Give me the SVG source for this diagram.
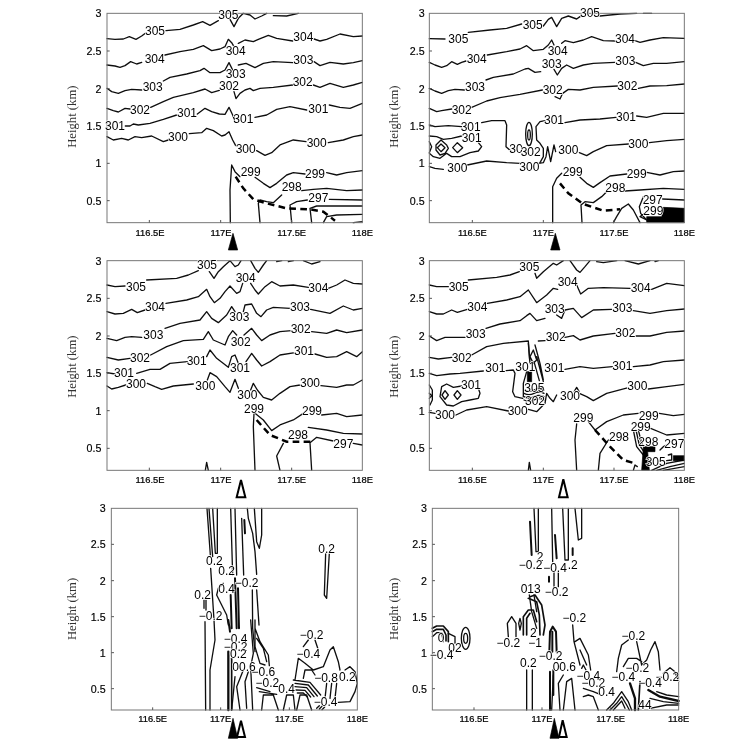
<svg xmlns="http://www.w3.org/2000/svg" width="750" height="743" viewBox="0 0 750 743">
<defs><filter id="soft" x="0" y="0" width="100%" height="100%" filterUnits="objectBoundingBox"><feGaussianBlur stdDeviation="0.4"/></filter></defs>
<style>
.c{fill:none;stroke:#111;stroke-width:4;stroke-linejoin:round;stroke-linecap:round}
.h{fill:none;stroke:#111;stroke-width:7;stroke-linejoin:round}
.d{fill:none;stroke:#000;stroke-width:7.5;stroke-dasharray:20 13}
.f{fill:none;stroke:#777;stroke-width:3}
.t{fill:none;stroke:#555;stroke-width:3}
text{font-family:"Liberation Sans",Arial,sans-serif;fill:#000;text-anchor:middle;dominant-baseline:central}
.l{font-size:36px;paint-order:stroke;stroke:#fff;stroke-width:4px}
.x{font-size:28px;stroke:#000;stroke-width:.7px}
.y{font-size:32px;text-anchor:end;stroke:#000;stroke-width:.5px}
.a{font-family:"Liberation Serif",serif;font-size:38px;fill:#333}
.b{fill:#000;stroke:#000;stroke-width:2}
.o{fill:#fff;stroke:#000;stroke-width:6}
</style>
<rect width="750" height="743" fill="#fff"/>
<g filter="url(#soft)">
<rect width="750" height="743" fill="#fff"/>

<g id="panel-1" transform="translate(60,0) scale(.33333)">
<g id="contours-1">
<path class="c" d="M141,116 165,118 190,117 208,110 228,118 245,108 258,98M318,92 360,88 400,75 428,65 450,76 475,62M510,58 522,80 535,55 550,40 570,45 585,57 605,48 620,40M640,47 680,48 715,40"/>
<path class="c" d="M141,195 165,198 180,202 195,197 212,185 230,192 245,187M315,165 360,155 400,148 430,137 455,152 480,147 495,140 505,118 515,128 522,140M535,130 555,120 580,125 595,118 625,106 650,115 698,123M762,117 780,123 800,118 840,102 880,110 907,108"/>
<path class="c" d="M141,265 155,275 175,280 195,272 215,268 245,270M310,243 330,232 380,222 420,212 432,205 450,218 480,218 495,210 507,188 518,210M535,195 558,190 585,203 610,190 640,185 698,188M762,185 780,197 810,187 850,192 880,188 907,182"/>
<path class="c" d="M141,325 160,332 175,336 195,325 210,327M272,322 310,305 340,292 400,278 435,267 455,278 478,271M522,275 528,296 540,280 555,270 570,265 580,272 600,265 640,262 698,255M760,255 780,262 810,250 850,262 880,255 907,247"/>
<path class="c" d="M196,378 210,378 220,372 235,375 270,370 310,358 350,345M412,342 435,325 455,335 478,342 495,343 507,322 518,345 523,358M585,352 620,345 650,328 690,320 740,330M808,315 840,322 870,325 907,310"/>
<path class="c" d="M141,410 160,420 185,415 205,420 225,410 245,413 275,408 310,425 325,420M388,401 425,398 440,385 460,392 485,408 495,405 507,395 518,420 527,437M590,452 615,466 635,458 660,435 700,420 738,425M805,428 850,420 880,410 907,405"/>
<path class="c" d="M511,668 510,570 515,495 525,515 540,530M585,532 610,550 630,563 650,550 680,525 700,518 735,522M800,518 830,525 860,518 907,512M600,668 595,610 600,600 620,605 640,608 665,585M725,572 760,568 800,565 860,572 907,570M695,668 690,615 710,605 742,600M808,598 907,600M755,668 750,625 770,618 907,618M790,668 800,650 830,645 907,643M880,668 907,665"/>
<path class="d" d="M527,530 550,565 580,598 620,610 680,625 750,628 790,635 825,662"/>
</g>
<rect class="f" x="141" y="40" width="766" height="628"/>
<path class="t" d="M141,153h8M141,266h8M141,378h8M141,490h8M141,602h8M268,668v-8M482,668v-8M695,668v-8"/>
<text class="y" x="124" y="40">3</text><text class="y" x="124" y="153">2.5</text><text class="y" x="124" y="266">2</text><text class="y" x="124" y="378">1.5</text><text class="y" x="124" y="490">1</text><text class="y" x="124" y="602">0.5</text>
<text class="x" x="270" y="698">116.5E</text><text class="x" x="483" y="698">117E</text><text class="x" x="695" y="698">117.5E</text><text class="x" x="907" y="698">118E</text>
<text class="a" transform="translate(35,350) rotate(-90)">Height (km)</text>
<g class="labels">
<text class="l" x="505" y="44">305</text><text class="l" x="285" y="93">305</text><text class="l" x="284" y="177">304</text><text class="l" x="527" y="152">304</text><text class="l" x="730" y="112">304</text><text class="l" x="278" y="261">303</text><text class="l" x="527" y="222">303</text><text class="l" x="730" y="180">303</text><text class="l" x="240" y="330">302</text><text class="l" x="507" y="257">302</text><text class="l" x="728" y="247">302</text><text class="l" x="165" y="378">301</text><text class="l" x="381" y="338">301</text><text class="l" x="550" y="358">301</text><text class="l" x="775" y="328">301</text><text class="l" x="354" y="412">300</text><text class="l" x="557" y="447">300</text><text class="l" x="770" y="428">300</text><text class="l" x="572" y="515">299</text><text class="l" x="765" y="522">299</text><text class="l" x="695" y="562">298</text><text class="l" x="775" y="594">297</text>
</g>
<path class="b" d="M519,700 533,750 505,750Z"/>
</g>

<g id="panel-2" transform="translate(380,0) scale(.33333)">
<g id="contours-2">
<path class="c" d="M148,116 195,117M265,97 330,90 380,85 425,72M490,78 505,58 515,52 530,80 545,55 565,48 590,57 600,50M660,48 720,42 770,40M790,40 815,40"/>
<path class="c" d="M148,187 165,195 185,202 200,197 215,185 232,193 245,187 258,183M322,165 380,155 420,147 440,137 460,152 490,148 505,135 515,120 522,135M545,130 555,122 580,128 610,120 635,110 670,122 706,123M765,122 780,127 810,120 850,113 913,115"/>
<path class="c" d="M148,265 165,273 185,280 205,272 225,268 253,270M318,240 340,232 400,222 435,207 445,205 465,217 482,215M522,208 532,225 545,205 560,195 580,205 610,195 640,190 705,187M767,187 790,197 820,190 860,190 913,185"/>
<path class="c" d="M148,325 170,335 185,332 215,327M275,322 320,303 360,293 420,283 487,270M525,290 540,297 548,280 565,268 600,270 640,262 712,258M775,265 810,258 860,257 913,252"/>
<path class="c" d="M148,375 165,380 205,377 245,380M305,368 335,362 375,362 380,375 378,440 395,455M470,420 468,380 480,365 495,362M555,368 600,360 660,357 708,352M770,348 800,352 850,340 913,340M470,420 480,430 490,445 490,470 480,488"/>
<path class="c" d="M148,408 170,410 190,418 215,415 245,408M295,428 305,440 295,453 270,458 240,470 215,470 200,460 180,475 160,470 148,460M148,425 155,440 148,458M183,420 200,435 205,445 195,460 180,465 168,450 168,435ZM183,432 195,443 183,455 172,443ZM232,428 248,443 232,458 218,443Z"/>
<ellipse class="c" cx="447" cy="402" rx="10" ry="35"/><ellipse class="c" cx="447" cy="405" rx="4" ry="15" stroke-width="5"/>
<path class="c" d="M148,500 165,505 190,508M262,495 320,483 380,488 420,490M476,490 490,488 498,470 503,440 512,485 522,435 527,455M598,458 620,467 640,455 680,437 745,432M808,428 860,422 913,418"/>
<path class="c" d="M518,668 518,560 530,535 545,520M600,532 620,550 640,562 660,548 690,528 740,522M800,517 840,525 880,515 913,513M606,668 603,615 615,605 640,608 665,590 680,575M735,573 780,570 850,565 913,568M700,668 710,650 725,625 745,612 760,630 780,668M790,590 778,620 782,640 800,660 780,650 795,640M848,597 913,600"/>
<path class="d" d="M540,550 565,580 610,612 670,632 720,628"/>
<path class="b" d="M800,650 845,650 850,622 913,625 913,668 800,668Z"/>
</g>
<rect class="f" x="148" y="40" width="765" height="628"/>
<path class="t" d="M148,153h8M148,266h8M148,378h8M148,490h8M148,602h8M277,668v-8M490,668v-8M702,668v-8"/>
<text class="y" x="134" y="40">3</text><text class="y" x="134" y="153">2.5</text><text class="y" x="134" y="266">2</text><text class="y" x="134" y="378">1.5</text><text class="y" x="134" y="490">1</text><text class="y" x="134" y="602">0.5</text>
<text class="x" x="277" y="698">116.5E</text><text class="x" x="490" y="698">117E</text><text class="x" x="702" y="698">117.5E</text><text class="x" x="913" y="698">118E</text>
<text class="a" transform="translate(42,350) rotate(-90)">Height (km)</text>
<g class="labels">
<text class="l" x="630" y="38">305</text><text class="l" x="458" y="76">305</text><text class="l" x="235" y="117">305</text><text class="l" x="290" y="177">304</text><text class="l" x="533" y="152">304</text><text class="l" x="735" y="116">304</text><text class="l" x="285" y="260">303</text><text class="l" x="515" y="193">303</text><text class="l" x="736" y="183">303</text><text class="l" x="245" y="330">302</text><text class="l" x="518" y="270">302</text><text class="l" x="742" y="257">302</text><text class="l" x="272" y="380">301</text><text class="l" x="275" y="413">301</text><text class="l" x="522" y="360">301</text><text class="l" x="738" y="352">301</text><text class="l" x="408" y="448">30</text><text class="l" x="452" y="455">302</text><text class="l" x="565" y="450">300</text><text class="l" x="775" y="432">300</text><text class="l" x="232" y="505">300</text><text class="l" x="448" y="502">300</text><text class="l" x="578" y="517">299</text><text class="l" x="770" y="522">299</text><text class="l" x="706" y="565">298</text><text class="l" x="818" y="600">297</text><text class="l" x="820" y="632">299</text>
</g>
<path class="b" d="M526,700 540,750 512,750Z"/>
</g>

<g id="panel-3" transform="translate(60,250) scale(.33333)">
<g id="contours-3">
<path class="c" d="M141,105 165,110 195,108M260,90 350,85 385,75 415,62M448,65 462,85 475,65 490,50 510,32 525,50 535,45 543,32M572,32 585,55 595,67 610,45 620,32M650,35 665,32M685,35 700,32M730,32 755,42 780,35"/>
<path class="c" d="M141,185 165,192 190,190 215,178 232,188 255,180M318,160 380,150 415,140 440,118 450,140 463,158 480,145 495,125 510,108 530,130 540,125 548,100M572,100 585,120 595,132 615,110 635,95 660,108 700,105 745,112M805,115 830,105 855,90 880,100 907,102"/>
<path class="c" d="M141,265 170,272 195,262 215,260 245,262M315,235 360,220 420,210 440,185 455,205 475,218 500,195 515,170 525,185M550,185 555,165 575,162 590,190 603,200 620,180 640,172 690,175M752,178 810,190 850,168 880,180 907,175"/>
<path class="c" d="M141,322 175,330 210,325M272,315 320,290 370,272 430,268 445,245 460,270 495,285 505,260 518,242 530,255M552,255 575,235 590,255 605,272 630,255 660,245 695,242M755,245 800,250 830,240 860,248 907,240"/>
<path class="c" d="M141,368 165,372M230,370 270,358 300,358 330,340 382,335M440,320 450,300 470,325 505,352 515,320 525,315 535,340M558,335 575,310 590,330 605,348 630,335 660,315 705,308M765,312 800,322 830,320 860,305 890,320 907,305"/>
<path class="c" d="M141,408 155,417 175,412 197,405M262,400 285,410 305,418 340,408 400,402M442,390 450,368 470,380 495,410 510,427 525,388 535,415M572,420 580,400 592,420 610,442 635,450 660,430 690,410 720,405M783,407 830,412 860,405 880,405 907,390"/>
<path class="c" d="M585,661 580,530 582,490M585,490 610,510 635,542 660,525 700,510 730,490M785,495 830,490 860,500 907,495M660,661 650,618 670,580M745,532 800,540 850,550 907,552M755,661 750,578 770,562 820,573M880,580 907,585M436,661 440,637 445,661"/>
<path class="d" d="M590,510 630,555 680,575 755,575"/>
</g>
<rect class="f" x="141" y="32" width="766" height="629"/>
<path class="t" d="M141,145h8M141,258h8M141,370h8M141,482h8M141,595h8M268,661v-8M482,661v-8M695,661v-8"/>
<text class="y" x="124" y="32">3</text><text class="y" x="124" y="145">2.5</text><text class="y" x="124" y="258">2</text><text class="y" x="124" y="370">1.5</text><text class="y" x="124" y="482">1</text><text class="y" x="124" y="595">0.5</text>
<text class="x" x="270" y="690">116.5E</text><text class="x" x="483" y="690">117E</text><text class="x" x="695" y="690">117.5E</text><text class="x" x="907" y="690">118E</text>
<text class="a" transform="translate(35,350) rotate(-90)">Height (km)</text>
<g class="labels">
<text class="l" x="441" y="46">305</text><text class="l" x="228" y="110">305</text><text class="l" x="557" y="85">304</text><text class="l" x="285" y="170">304</text><text class="l" x="775" y="113">304</text><text class="l" x="280" y="255">303</text><text class="l" x="538" y="202">303</text><text class="l" x="720" y="172">303</text><text class="l" x="240" y="325">302</text><text class="l" x="542" y="275">302</text><text class="l" x="722" y="236">302</text><text class="l" x="192" y="368">301</text><text class="l" x="410" y="332">301</text><text class="l" x="540" y="355">301</text><text class="l" x="732" y="303">301</text><text class="l" x="228" y="402">300</text><text class="l" x="436" y="408">300</text><text class="l" x="562" y="434">300</text><text class="l" x="750" y="400">300</text><text class="l" x="582" y="476">299</text><text class="l" x="756" y="484">299</text><text class="l" x="714" y="555">298</text><text class="l" x="850" y="582">297</text>
</g>
<path class="o" d="M543,690 556,742 530,742Z"/>
</g>

<g id="panel-4" transform="translate(380,250) scale(.33333)">
<g id="contours-4">
<path class="c" d="M148,105 170,110 205,110M265,90 350,82 390,75 418,65M465,70 470,85 490,65 520,40 530,45 550,32M570,32 590,60 600,67 615,50 630,32M650,35 670,38 710,32M735,32 775,42 810,32M825,35 835,32"/>
<path class="c" d="M148,185 170,192 190,192 215,180 232,187 262,178M322,160 380,150 420,140 445,120 470,158 500,135 520,115 533,118M590,105 602,132 625,115 670,113 750,115M815,118 860,100 913,107"/>
<path class="c" d="M148,258 170,272 195,262 225,262 255,262M318,235 360,222 420,212 440,197 450,190 470,212 495,205M530,195 545,205 555,180 580,175 605,203 640,180 695,178M760,182 810,190 860,182 913,177"/>
<path class="c" d="M148,322 175,327 215,322M275,315 320,290 370,280 445,273 449,330M475,273 495,272M555,262 580,257 600,270 640,258 705,250M768,258 810,258 860,247 913,243"/>
<path class="c" d="M445,280 450,340M465,285 480,340 490,390M470,320 490,395M462,335 478,392M450,320 460,300 470,330 460,340Z"/>
<path class="c" d="M148,370 170,377 210,372 240,370 310,363M378,362 400,360 405,370 398,425 405,440 428,445M440,365 430,400 430,440M555,358 600,350 640,355 697,350M760,350 810,345 850,335 913,330"/>
<path class="c" d="M245,408 220,412 200,402 185,410 180,440 200,465 220,468 245,455 270,450 295,445 300,430 295,415M195,422 205,435 195,448 186,435ZM232,422 243,435 232,448 222,435ZM148,405 157,420 157,450 150,465M148,430 155,437 148,445"/>
<path class="c" d="M432,420q15,8 30,0t30,0M432,430q15,8 30,0t30,0M432,440q15,8 30,0t30,0M432,450q15,8 30,0t30,0"/>
<path class="c" d="M148,487 165,490M228,495 260,480 320,470 385,483M445,478 470,485 495,460 500,430 510,445 520,455 530,435M598,430 620,440 640,452 680,430 745,413M805,417 860,410 913,403M583,424 590,412 597,424"/>
<path class="c" d="M590,661 585,570 590,522M625,515 645,540 680,515 730,495 775,490M838,490 880,497 913,493M655,661 660,610 685,570M812,535 860,555 913,550M760,540 770,590 790,615M768,540 778,585 795,610M775,540 785,580 798,600M815,661 860,640 913,630M830,661 870,650 913,640M850,661 913,650M865,615 875,612 875,630 860,632M840,600 850,590 860,585M760,661 765,645 772,650"/>
<path class="d" d="M645,540 690,590 730,630 765,640"/>
<path class="b" d="M442,365H455V395H442ZM790,590H825V605H803L808,661H785ZM880,617H913V632H880Z"/>
<path class="c" d="M448,637 445,661M448,637 452,661"/>
</g>
<rect class="f" x="148" y="32" width="765" height="629"/>
<path class="t" d="M148,145h8M148,258h8M148,370h8M148,482h8M148,595h8M277,661v-8M490,661v-8M702,661v-8"/>
<text class="y" x="134" y="32">3</text><text class="y" x="134" y="145">2.5</text><text class="y" x="134" y="258">2</text><text class="y" x="134" y="370">1.5</text><text class="y" x="134" y="482">1</text><text class="y" x="134" y="595">0.5</text>
<text class="x" x="277" y="690">116.5E</text><text class="x" x="490" y="690">117E</text><text class="x" x="702" y="690">117.5E</text><text class="x" x="913" y="690">118E</text>
<text class="a" transform="translate(42,350) rotate(-90)">Height (km)</text>
<g class="labels">
<text class="l" x="448" y="50">305</text><text class="l" x="236" y="110">305</text><text class="l" x="563" y="97">304</text><text class="l" x="292" y="170">304</text><text class="l" x="782" y="115">304</text><text class="l" x="287" y="252">303</text><text class="l" x="524" y="177">303</text><text class="l" x="727" y="175">303</text><text class="l" x="245" y="323">302</text><text class="l" x="527" y="262">302</text><text class="l" x="736" y="250">302</text><text class="l" x="346" y="355">301</text><text class="l" x="436" y="352">301</text><text class="l" x="523" y="353">301</text><text class="l" x="727" y="347">301</text><text class="l" x="273" y="406">301</text><text class="l" x="463" y="413">305</text><text class="l" x="465" y="452">302</text><text class="l" x="195" y="495">300</text><text class="l" x="413" y="483">300</text><text class="l" x="570" y="437">300</text><text class="l" x="772" y="408">300</text><text class="l" x="610" y="503">299</text><text class="l" x="806" y="498">299</text><text class="l" x="782" y="532">299</text><text class="l" x="717" y="560">298</text><text class="l" x="805" y="575">298</text><text class="l" x="883" y="582">297</text><text class="l" x="827" y="635">305</text>
</g>
<path class="o" d="M550,688 563,742 537,742Z"/>
</g>

<g id="panel-5" transform="translate(60,495) scale(.33333)">
<g id="contours-5">
<path class="c" d="M441,40 451,180M447,40 458,185M458,40 466,175 472,175 472,40M452,220 462,375 465,435 450,525 450,645M435,380 437,645M432,315V340M438,315V345"/>
<path class="c" d="M512,40 518,240M525,40 530,240M545,70 551,240M562,40 565,70 578,115 585,170 590,238M583,40 590,140 598,160 605,120 605,40M577,285 578,400 585,470M590,285 597,390M490,265 475,280 470,300 485,330 500,360 505,390"/>
<path class="c" style="stroke-width:6" d="M553,75 555,115M525,250 530,400M512,300 515,400M505,375 510,410M534,280 537,400"/>
<path class="c" style="stroke-width:7" d="M505,470V645"/>
<path class="c" style="stroke-width:5" d="M515,490V645"/>
<path class="c" d="M525,545 515,645M550,525 530,575 540,645M565,530 555,560 560,640M572,375 580,475 572,515 578,645M585,375 585,455 600,505 615,510M585,400 600,440 625,480 628,512M590,430 610,460 620,500M590,578 630,590M598,590 650,598M610,600 605,645M610,600 640,600 655,645M670,645 680,600 700,600 705,645M710,645 720,600 740,600 755,645"/>
<path class="c" d="M700,555 750,562 782,600M705,565 745,570 772,603M705,575 740,578 762,605M708,585 735,586 752,606M712,594 730,594 742,606M705,555 715,490 735,505 760,525 790,515 810,465 820,455 835,500 840,525M730,455 745,435M765,435 775,465M730,550 735,525 755,525 765,540M835,622 870,620 885,590 892,565 885,530 870,515 855,525M800,565 795,610M815,565 810,610M830,565 825,610M770,640l8,-8M778,642l8,-8M786,644l8,-8"/>
<path class="c" d="M797,175 793,300 800,310 808,175"/>
</g>
<rect class="f" x="154" y="40" width="738" height="605"/>
<path class="t" d="M154,148h8M154,257h8M154,365h8M154,473h8M154,581h8M278,645v-8M482,645v-8M688,645v-8"/>
<text class="y" x="137" y="40">3</text><text class="y" x="137" y="148">2.5</text><text class="y" x="137" y="257">2</text><text class="y" x="137" y="365">1.5</text><text class="y" x="137" y="473">1</text><text class="y" x="137" y="581">0.5</text>
<text class="x" x="278" y="673">116.5E</text><text class="x" x="482" y="673">117E</text><text class="x" x="688" y="673">117.5E</text><text class="x" x="892" y="673">118E</text>
<text class="a" transform="translate(35,342) rotate(-90)">Height (km)</text>
<g class="labels">
<text class="l" x="800" y="161">0.2</text><text class="l" x="463" y="198">0.2</text><text class="l" x="500" y="228">0.2</text><text class="l" x="560" y="265">−0.2</text><text class="l" x="500" y="283">0.4</text><text class="l" x="428" y="300">0.2</text><text class="l" x="452" y="363">−0.2</text><text class="l" x="527" y="432">−0.4</text><text class="l" x="527" y="455">−0.2</text><text class="l" x="535" y="478">0.2</text><text class="l" x="552" y="515">00.6</text><text class="l" x="610" y="530">−0.6</text><text class="l" x="622" y="565">−0.2</text><text class="l" x="680" y="582">0.4</text><text class="l" x="755" y="420">−0.2</text><text class="l" x="745" y="478">−0.4</text><text class="l" x="798" y="550">−0.8</text><text class="l" x="862" y="545">0.2</text><text class="l" x="797" y="622">−0.4</text>
</g>
<path class="b" d="M519,670 533,730 505,730Z"/>
<path class="o" d="M543,677 555,726 531,726Z"/>
</g>

<g id="panel-6" transform="translate(380,495) scale(.33333)">
<g id="contours-6">
<path class="c" d="M462,40 468,170 475,170 475,40M515,40 518,200M548,40 555,195 565,195 565,40M585,40 595,135 605,130 605,40M522,230V275M535,230V275M440,525V645M457,525V645"/>
<path class="c" style="stroke-width:6" d="M450,80 455,180M525,120 530,190M578,160V180M507,245V260"/>
<path class="c" style="stroke-width:5" d="M450,305 465,300 485,330 495,390 490,420M445,310 470,320 478,360 480,420M157,400 170,393 190,393 205,410 205,440M157,410 170,403 190,403 198,420 198,438M430,420 430,365 445,345 460,345 470,380M440,420 440,370 450,355"/>
<path class="c" d="M448,300 455,350 470,400M462,300 470,350M385,425 382,385 395,365 408,385 408,425M420,370 416,385 420,405 424,385ZM157,425 170,413 185,413 190,440M205,415 225,425 225,445"/>
<ellipse class="c" cx="257" cy="430" rx="13" ry="33"/><ellipse class="c" cx="257" cy="430" rx="6" ry="15"/>
<path class="c" style="stroke-width:6" d="M508,470 510,410 518,395 528,410 530,470M517,470V410"/>
<path class="c" style="stroke-width:6" d="M510,530V645M520,525V600"/>
<path class="c" d="M515,645 520,540M540,645 535,565 550,540M550,645 560,560 575,550 585,645M578,390 582,440 600,510M585,440 600,430 625,480 632,525M600,465 620,510M605,520 610,510 618,525"/>
<path class="c" d="M610,605 625,600 640,605 655,645M610,580 640,590 660,598M680,645 700,625 725,590 745,620 755,645M690,645 710,625 725,605 740,630 748,645M700,645 725,618 735,640M710,530 715,490 725,450 745,435M770,440 785,510 800,495 812,465 825,440 835,470 840,525M730,515 745,490 770,490 785,500M896,560 885,530 870,518 850,535M810,640 860,630 896,630M830,590 860,600 896,605M810,610 850,620 896,625"/>
<path class="c" style="stroke-width:7" d="M750,565 765,610 765,645M805,585 840,605 896,618"/>
<path class="c" style="stroke-width:5" d="M780,560 775,645"/>
</g>
<rect class="f" x="157" y="40" width="739" height="605"/>
<path class="t" d="M157,148h8M157,257h8M157,365h8M157,473h8M157,581h8M282,645v-8M486,645v-8M692,645v-8"/>
<text class="y" x="141" y="40">3</text><text class="y" x="141" y="148">2.5</text><text class="y" x="141" y="257">2</text><text class="y" x="141" y="365">1.5</text><text class="y" x="141" y="473">1</text><text class="y" x="141" y="581">0.5</text>
<text class="x" x="282" y="673">116.5E</text><text class="x" x="486" y="673">117E</text><text class="x" x="692" y="673">117.5E</text><text class="x" x="896" y="673">118E</text>
<text class="a" transform="translate(42,342) rotate(-90)">Height (km)</text>
<g class="labels">
<text class="l" x="480" y="185">2</text><text class="l" x="452" y="210">−0.2</text><text class="l" x="525" y="218">−0.4</text><text class="l" x="578" y="210">.2</text><text class="l" x="452" y="283">013</text><text class="l" x="530" y="292">−0.2</text><text class="l" x="583" y="370">−0.2</text><text class="l" x="183" y="430">0</text><text class="l" x="460" y="415">2</text><text class="l" x="385" y="445">−0.2</text><text class="l" x="465" y="445">−1</text><text class="l" x="225" y="458">02</text><text class="l" x="185" y="480">−0.4</text><text class="l" x="512" y="482">−0.2</text><text class="l" x="445" y="505">0.2</text><text class="l" x="553" y="517">00.6</text><text class="l" x="625" y="542">−0.4</text><text class="l" x="640" y="565">−0.2</text><text class="l" x="680" y="590">0.4</text><text class="l" x="730" y="547">−0.4</text><text class="l" x="772" y="518">−0.2</text><text class="l" x="760" y="423">−0.2</text><text class="l" x="862" y="545">−0.2</text><text class="l" x="810" y="565">−0.4</text><text class="l" x="795" y="630">44</text>
</g>
<path class="b" d="M523,670 537,730 510,730Z"/>
<path class="o" d="M548,676 560,726 537,726Z"/>
</g>
</g>
</svg>
